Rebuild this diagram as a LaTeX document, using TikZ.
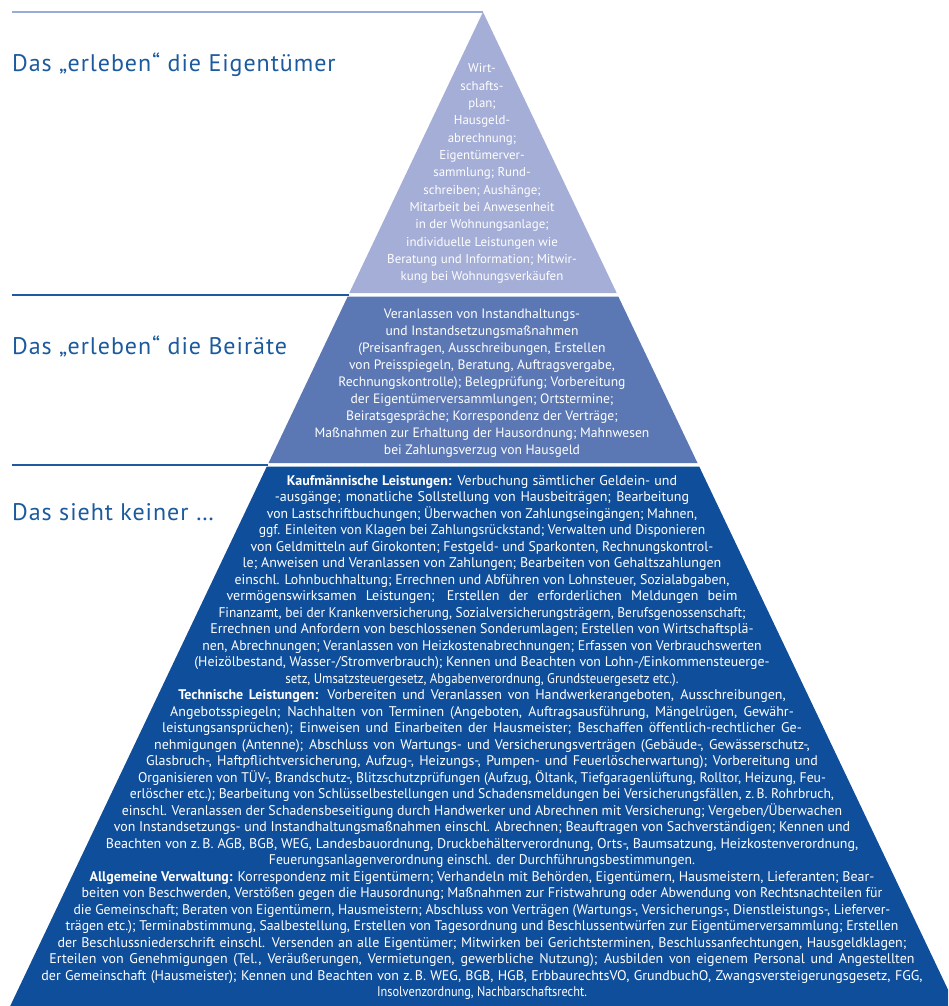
\documentclass[tikz,border=0pt]{standalone}
\usepackage{fontspec}
\usepackage{graphicx}
\setmainfont{PT Sans}
\newfontfamily\labelfont[LetterSpace=4]{PT Sans}
\definecolor{tierA}{HTML}{A4AED6}
\definecolor{tierB}{HTML}{5B78B4}
\definecolor{tierC}{HTML}{0F4E9A}
\definecolor{labelblue}{HTML}{1B5A9E}
\definecolor{lineA}{HTML}{9CAAD8}
\definecolor{lineB}{HTML}{1F5AA0}
\newsavebox\jlbox
\newcommand\jl[2]{\sbox\jlbox{#2}\ifdim\wd\jlbox>#1\relax\resizebox{#1}{\height}{\usebox\jlbox}\else\makebox[#1][s]{#2}\fi}
\newcommand\tline[2]{%
  \pgfmathsetmacro\ty{481+(#1-1)*16.5}%
  \pgfmathsetmacro\tm{ifthenelse(#1==1,28,24-(#1-1)*0.2)}%
  \pgfmathsetmacro\tw{2*0.4757*(\ty-12)-2*\tm}%
  \node[tthree] (L#1) at (482,\ty+4) {\jl{\tw pt}{#2}};}
\newcommand\tlinefix[3]{%
  \pgfmathsetmacro\ty{481+(#1-1)*16.5}%
  \node[tthree] (L#1) at (482,\ty+4) {\resizebox{#2pt}{\height}{#3}};}
\newcommand\pone[2]{%
  \pgfmathsetmacro\ty{69+(#1-1)*17.3}%
  \node[tone] (A#1) at (482,\ty+4) {#2};}
\newcommand\ptwo[2]{%
  \pgfmathsetmacro\ty{314+(#1-1)*17}%
  \node[ttwo] (B#1) at (482,\ty+4) {#2};}
\begin{document}
\begin{tikzpicture}[x=1pt,y=-1pt,
  tone/.style={text=white,inner sep=0,anchor=base,font=\fontsize{12.9}{16}\selectfont},
  ttwo/.style={text=white,inner sep=0,anchor=base,font=\fontsize{13.6}{16}\selectfont},
  tthree/.style={text=white,inner sep=0,anchor=base,font=\fontsize{14}{16}\selectfont},
  sidelabel/.style={text=labelblue,inner sep=0,anchor=base west,font=\labelfont\fontsize{24}{28}\selectfont},
  rule/.style={draw=lineB,line width=2pt}]
\useasboundingbox (0,0) rectangle (948,1006);
\clip (0,0) rectangle (948,1006);
% pyramid corners
\coordinate (apex) at (483,12);
\coordinate (a1) at (349.3,293);   \coordinate (a2) at (616.7,293);
\coordinate (b1) at (347.7,296.5); \coordinate (b2) at (618.3,296.5);
\coordinate (b3) at (697.5,463);   \coordinate (b4) at (268.5,463);
\coordinate (c1) at (266.8,466.5); \coordinate (c2) at (699.2,466.5);
\coordinate (c3) at (955.8,1006);  \coordinate (c4) at (10.2,1006);
\fill[tierA] (apex) -- (a2) -- (a1) -- cycle;
\fill[tierB] (b1) -- (b2) -- (b3) -- (b4) -- cycle;
\fill[tierC] (c1) -- (c2) -- (c3) -- (c4) -- cycle;
% rules
\coordinate (r1) at (12,12);
\coordinate (r2) at (12,294.7);  \coordinate (r2e) at (348.5,294.7);
\coordinate (r3) at (12,464.7);  \coordinate (r3e) at (267.6,464.7);
\draw[lineA,line width=1.5pt] (r1) -- (apex);
\draw[rule] (r2) -- (r2e);
\draw[rule] (r3) -- (r3e);
% side labels
\node[sidelabel] (lab1) at (12,72) {Das „erleben“ die Eigentümer};
\node[sidelabel] (lab2) at (12,354) {Das „erleben“ die Beiräte};
\node[sidelabel] (lab3) at (12,520) {Das sieht keiner …};
% tier 1
\pone{1}{Wirt-}
\pone{2}{schafts-}
\pone{3}{plan;}
\pone{4}{Hausgeld-}
\pone{5}{abrechnung;}
\pone{6}{Eigentümerver-}
\pone{7}{sammlung; Rund-}
\pone{8}{schreiben; Aushänge;}
\pone{9}{Mitarbeit bei Anwesenheit}
\pone{10}{in der Wohnungsanlage;}
\pone{11}{individuelle Leistungen wie}
\pone{12}{Beratung und Information; Mitwir-}
\pone{13}{kung bei Wohnungsverkäufen}
% tier 2
\ptwo{1}{Veranlassen von Instandhaltungs-}
\ptwo{2}{und Instandsetzungsmaßnahmen}
\ptwo{3}{(Preisanfragen, Ausschreibungen, Erstellen}
\ptwo{4}{von Preisspiegeln, Beratung, Auftragsvergabe,}
\ptwo{5}{Rechnungskontrolle); Belegprüfung; Vorbereitung}
\ptwo{6}{der Eigentümerversammlungen; Ortstermine;}
\ptwo{7}{Beiratsgespräche; Korrespondenz der Verträge;}
\ptwo{8}{Maßnahmen zur Erhaltung der Hausordnung; Mahnwesen}
\ptwo{9}{bei Zahlungsverzug von Hausgeld}
% tier 3
\tline{1}{\textbf{Kaufmännische Leistungen:} Verbuchung sämtlicher Geldein- und}
\tline{2}{-ausgänge; monatliche Sollstellung von Hausbeiträgen; Bearbeitung}
\tline{3}{von Lastschriftbuchungen; Überwachen von Zahlungseingängen; Mahnen,}
\tline{4}{ggf. Einleiten von Klagen bei Zahlungsrückstand; Verwalten und Disponieren}
\tline{5}{von Geldmitteln auf Girokonten; Festgeld- und Sparkonten, Rechnungskontrol-}
\tline{6}{le; Anweisen und Veranlassen von Zahlungen; Bearbeiten von Gehaltszahlungen}
\tline{7}{einschl. Lohnbuchhaltung; Errechnen und Abführen von Lohnsteuer, Sozialabgaben,}
\tline{8}{vermögenswirksamen Leistungen; Erstellen der erforderlichen Meldungen beim}
\tline{9}{Finanzamt, bei der Krankenversicherung, Sozialversicherungsträgern, Berufsgenossenschaft;}
\tline{10}{Errechnen und Anfordern von beschlossenen Sonderumlagen; Erstellen von Wirtschaftsplä-}
\tline{11}{nen, Abrechnungen; Veranlassen von Heizkostenabrechnungen; Erfassen von Verbrauchswerten}
\tline{12}{(Heizölbestand, Wasser-/Stromverbrauch); Kennen und Beachten von Lohn-/Einkommensteuerge-}
\tlinefix{13}{393}{setz, Umsatzsteuergesetz, Abgabenverordnung, Grundsteuergesetz etc.).}
\tline{14}{\textbf{Technische Leistungen:} Vorbereiten und Veranlassen von Handwerkerangeboten, Ausschreibungen,}
\tline{15}{Angebotsspiegeln; Nachhalten von Terminen (Angeboten, Auftragsausführung, Mängelrügen, Gewähr-}
\tline{16}{leistungsansprüchen); Einweisen und Einarbeiten der Hausmeister; Beschaffen öffentlich-rechtlicher Ge-}
\tline{17}{nehmigungen (Antenne); Abschluss von Wartungs- und Versicherungsverträgen (Gebäude-, Gewässerschutz-,}
\tline{18}{Glasbruch-, Haftpflichtversicherung, Aufzug-, Heizungs-, Pumpen- und Feuerlöscherwartung); Vorbereitung und}
\tline{19}{Organisieren von TÜV-, Brandschutz-, Blitzschutzprüfungen (Aufzug, Öltank, Tiefgaragenlüftung, Rolltor, Heizung, Feu-}
\tline{20}{erlöscher etc.); Bearbeitung von Schlüsselbestellungen und Schadensmeldungen bei Versicherungsfällen, z.\,B. Rohrbruch,}
\tline{21}{einschl. Veranlassen der Schadensbeseitigung durch Handwerker und Abrechnen mit Versicherung; Vergeben/Überwachen}
\tline{22}{von Instandsetzungs- und Instandhaltungsmaßnahmen einschl. Abrechnen; Beauftragen von Sachverständigen; Kennen und}
\tline{23}{Beachten von z.\,B. AGB, BGB, WEG, Landesbauordnung, Druckbehälterverordnung, Orts-, Baumsatzung, Heizkostenverordnung,}
\tlinefix{24}{426}{Feuerungsanlagenverordnung einschl. der Durchführungsbestimmungen.}
\tline{25}{\textbf{Allgemeine Verwaltung:} Korrespondenz mit Eigentümern; Verhandeln mit Behörden, Eigentümern, Hausmeistern, Lieferanten; Bear-}
\tline{26}{beiten von Beschwerden, Verstößen gegen die Hausordnung; Maßnahmen zur Fristwahrung oder Abwendung von Rechtsnachteilen für}
\tline{27}{die Gemeinschaft; Beraten von Eigentümern, Hausmeistern; Abschluss von Verträgen (Wartungs-, Versicherungs-, Dienstleistungs-, Lieferver-}
\tline{28}{trägen etc.); Terminabstimmung, Saalbestellung, Erstellen von Tagesordnung und Beschlussentwürfen zur Eigentümerversammlung; Erstellen}
\tline{29}{der Beschlussniederschrift einschl. Versenden an alle Eigentümer; Mitwirken bei Gerichtsterminen, Beschlussanfechtungen, Hausgeldklagen;}
\tline{30}{Erteilen von Genehmigungen (Tel., Veräußerungen, Vermietungen, gewerbliche Nutzung); Ausbilden von eigenem Personal und Angestellten}
\tline{31}{der Gemeinschaft (Hausmeister); Kennen und Beachten von z.\,B. WEG, BGB, HGB, ErbbaurechtsVO, GrundbuchO, Zwangsversteigerungsgesetz, FGG,}
\tlinefix{32}{210}{Insolvenzordnung, Nachbarschaftsrecht.}
\end{tikzpicture}
\end{document}
